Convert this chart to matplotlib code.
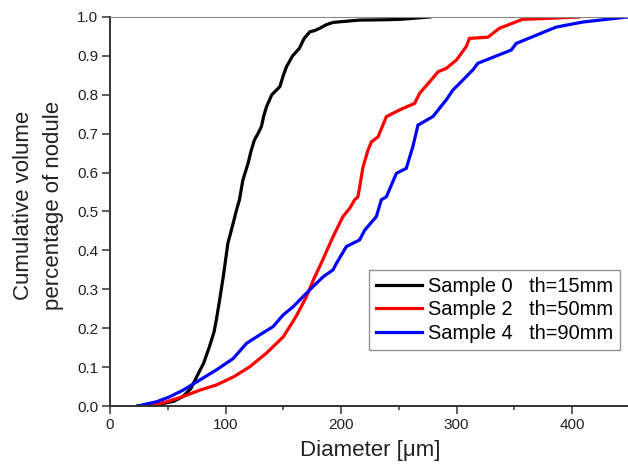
import matplotlib
matplotlib.use("Agg")
import matplotlib.pyplot as plt
from matplotlib.ticker import MultipleLocator

plt.rcParams['font.family'] = ['Liberation Sans', 'DejaVu Sans']

# Sample 0, th=15mm
s0_x = [24, 40, 55, 63, 70, 75, 81, 86, 90, 92, 95, 98, 102, 106.6, 109.5, 112, 115, 119.5, 122, 125,
        128, 131, 133, 135.4, 140, 147, 150, 152.7, 158, 164, 168, 173, 177, 181.5, 187, 193, 200, 216,
        240, 250.6, 260, 276.6]
s0_y = [0, 0.003, 0.012, 0.024, 0.045, 0.075, 0.11, 0.152, 0.19, 0.221, 0.275, 0.332, 0.418, 0.47, 0.504,
        0.53, 0.581, 0.624, 0.655, 0.684, 0.70, 0.718, 0.745, 0.769, 0.80, 0.821, 0.85, 0.872, 0.90, 0.92,
        0.945, 0.962, 0.965, 0.971, 0.98, 0.986, 0.988, 0.992, 0.993, 0.994, 0.996, 1.0]

# Sample 2, th=50mm
s2_x = [35, 49, 63, 78, 92, 107, 121, 135, 150, 161, 170, 176, 184, 193, 201.6, 207.4, 211.7, 214.6, 219,
        223.3, 226.2, 232, 239.2, 250.6, 263.6, 268, 279.4, 283.8, 291, 299.7, 308.3, 311, 327, 337, 357,
        375, 406]
s2_y = [0, 0.011, 0.024, 0.041, 0.054, 0.075, 0.101, 0.135, 0.178, 0.23, 0.281, 0.324, 0.375, 0.435, 0.487,
        0.508, 0.53, 0.538, 0.615, 0.658, 0.679, 0.692, 0.744, 0.761, 0.778, 0.804, 0.843, 0.859, 0.868,
        0.889, 0.924, 0.945, 0.948, 0.971, 0.994, 0.996, 1.0]

# Sample 4, th=90mm
s4_x = [24, 40.4, 51.9, 63.4, 77.8, 92.2, 106.6, 118.1, 129.6, 141.1, 149.8, 158.4, 167, 175.7, 184.4, 193,
        196, 204.6, 216, 220.4, 230.5, 234.8, 239.2, 247.8, 256.4, 262.1, 266.5, 279.4, 291, 296.7, 305.4,
        314, 318.3, 347.2, 351.5, 386, 409, 447.7]
s4_y = [0, 0.011, 0.024, 0.041, 0.067, 0.093, 0.122, 0.161, 0.183, 0.204, 0.234, 0.255, 0.281, 0.307, 0.332,
        0.35, 0.367, 0.41, 0.427, 0.452, 0.487, 0.53, 0.538, 0.598, 0.611, 0.667, 0.722, 0.744, 0.787,
        0.812, 0.838, 0.864, 0.881, 0.915, 0.932, 0.974, 0.987, 1.0]

labels = ["Sample 0   th=15mm", "Sample 2   th=50mm", "Sample 4   th=90mm"]
colors = ["#000000", "#ff0000", "#0000ff"]

fig = plt.figure(figsize=(6.28, 4.67), dpi=100)
ax = fig.add_axes([110/628, 61/467, 520/628, 389/467])

for xs, ys, lab, c in zip([s0_x, s2_x, s4_x], [s0_y, s2_y, s4_y], labels, colors):
    ax.plot(xs, ys, color=c, lw=2.3, label=lab, solid_joinstyle='miter')

ax.set_xlim(0, 450)
ax.set_ylim(0, 1.0)
ax.xaxis.set_major_locator(MultipleLocator(100))
ax.xaxis.set_minor_locator(MultipleLocator(50))
ax.yaxis.set_major_locator(MultipleLocator(0.1))
ax.yaxis.set_major_formatter(matplotlib.ticker.FormatStrFormatter('%.1f'))

for side in ['left', 'bottom']:
    ax.spines[side].set_color('#333333')
    ax.spines[side].set_linewidth(1.4)
ax.spines['top'].set_color('#888888')
ax.spines['top'].set_linewidth(0.8)
ax.spines['right'].set_visible(False)

ax.tick_params(axis='both', which='major', direction='out', length=5.5, width=1.1,
               color='#333333', labelsize=11, labelcolor='#222222', pad=3)
ax.tick_params(axis='x', which='minor', direction='out', length=3, width=1.1, color='#333333')
ax.tick_params(top=False, right=False)

ax.set_xlabel("Diameter [μm]", fontsize=16, color='#222222', labelpad=6)
ax.set_ylabel("Cumulative volume\npercentage of nodule", fontsize=16, color='#222222',
              linespacing=1.58)
ax.yaxis.set_label_coords(-0.088, 0.515)

leg = ax.legend(loc='upper left', bbox_to_anchor=(0.498, 0.35), fontsize=14.4, frameon=True,
                fancybox=False, edgecolor='#777777', borderaxespad=0, handlelength=2.3,
                handletextpad=0.3, labelspacing=0.22, borderpad=0.35)
leg.get_frame().set_linewidth(1.0)

fig.savefig("out.png", dpi=100)
